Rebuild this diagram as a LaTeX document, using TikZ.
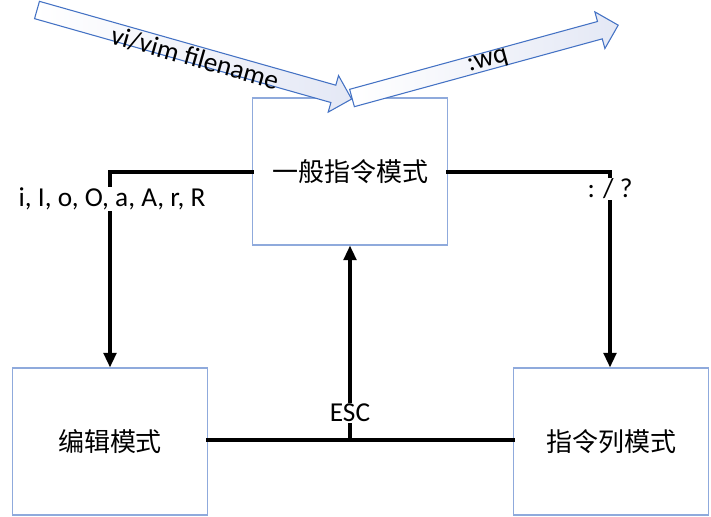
\documentclass[tikz,border=0pt]{standalone}
\usepackage{fontspec}
\usetikzlibrary{arrows.meta}
\setmainfont{Carlito}
\newfontfamily\cjk{Noto Sans CJK SC}
\begin{document}
\begin{tikzpicture}[x=0.75pt,y=-0.75pt,
  modebox/.style={draw=boxblue, line width=0.8pt, minimum width=146.25pt, minimum height=110.25pt, inner sep=0pt, font=\cjk\fontsize{19.5}{22}\selectfont},
  conn/.style={line width=2.5pt, line cap=rect},
  arr/.style={conn, -{Triangle[length=11pt,width=9.5pt]}},
  lbl/.style={fill=white, inner sep=1pt, font=\fontsize{20.5}{23}\selectfont},
  atext/.style={inner sep=0pt, font=\fontsize{20.5}{23}\selectfont},
  blockarrow/.style={draw=arrowblue, line width=0.8pt, left color=white, right color=tipfill},
]
\definecolor{boxblue}{HTML}{8FAADC}
\definecolor{arrowblue}{HTML}{4472C4}
\definecolor{tipfill}{HTML}{E4E8F5}
\useasboundingbox (0,0) rectangle (711,517);

% mode boxes
\node[modebox] (normal) at (350,171.5) {一般指令模式};
\node[modebox] (edit) at (110,441.5) {编辑模式};
\node[modebox] (cmd) at (611,441.5) {指令列模式};

% block arrows
\begin{scope}[shift={(37,10)}, rotate=-15.8]
  \draw[blockarrow] (0,-9) -- (308,-9) -- (308,-19) -- (327,0) -- (308,19) -- (308,9) -- (0,9) -- cycle;
\end{scope}
\begin{scope}[shift={(352,98)}, rotate=15.3]
  \draw[blockarrow] (0,-9) -- (257,-9) -- (257,-19) -- (276,0) -- (257,19) -- (257,9) -- (0,9) -- cycle;
\end{scope}
\node[atext, rotate=-15.8] (vitext) at (195,58) {vi/vim filename};
\node[atext, rotate=15.3] (wqtext) at (488,62) {:wq};

% connectors
\coordinate (lcorner) at (110,172);
\coordinate (rcorner) at (610,172);
\coordinate (esc) at (350,440);
\draw[conn] (normal.west |- lcorner) -- (lcorner);
\draw[arr] (lcorner) -- (edit.north -| lcorner);
\draw[conn] (normal.east |- rcorner) -- (rcorner);
\draw[arr] (rcorner) -- (cmd.north -| rcorner);
\draw[conn] (edit.east |- esc) -- (cmd.west |- esc);
\draw[arr] (esc) -- (normal.south);

% labels
\node[lbl] (insl) at (112,199) {i, I, o, O, a, A, r, R};
\node[lbl] (colon) at (610,189) {: / ?};
\node[lbl] (escl) at (350,413) {ESC};
\end{tikzpicture}
\end{document}
